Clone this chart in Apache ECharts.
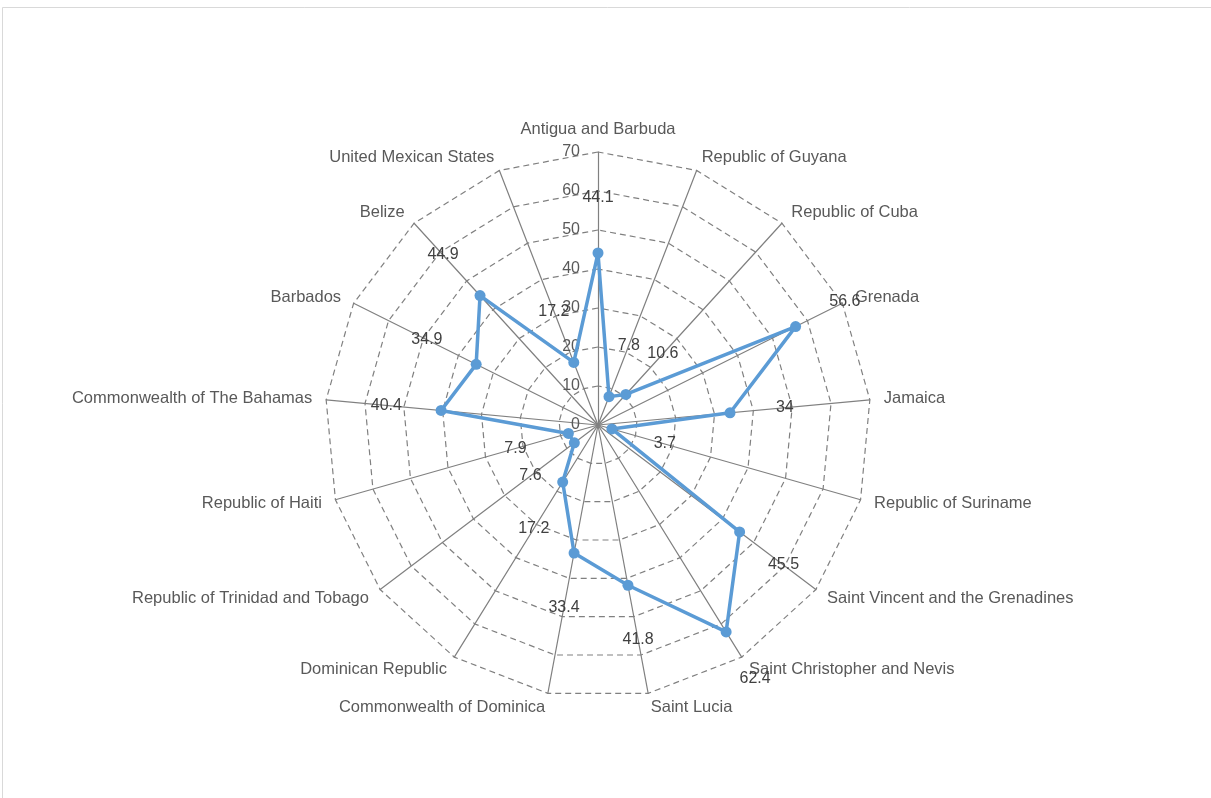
<!DOCTYPE html>
<html>
<head>
<meta charset="utf-8">
<script src="https://cdn.jsdelivr.net/npm/echarts@6/dist/echarts.min.js"></script>
<style>
  html, body { margin: 0; padding: 0; background: #fff; }
  #chart { width: 1211px; height: 798px; }
</style>
</head>
<body>
<div id="chart"></div>
<script>
// categories clockwise from the top
const countries = [
  "Antigua and Barbuda", "Republic of Guyana", "Republic of Cuba", "Grenada",
  "Jamaica", "Republic of Suriname", "Saint Vincent and the Grenadines",
  "Saint Christopher and Nevis", "Saint Lucia", "Commonwealth of Dominica",
  "Dominican Republic", "Republic of Trinidad and Tobago", "Republic of Haiti",
  "Commonwealth of The Bahamas", "Barbados", "Belize", "United Mexican States"
];
const values = [44.1, 7.8, 10.6, 56.6, 34, 3.7, 45.5, 62.4, 41.8, 33.4, 17.2, 7.6, 7.9, 40.4, 34.9, 44.9, 17.2];
const axisMin = 0;
const axisMax = 70;
const axisSplits = 7;

const blue = "#5B9BD5";
const grey = "#808080";
const textColor = "#595959";
const font = "'Liberation Sans', Arial, sans-serif";

// echarts lays radar axes out counter-clockwise, so feed them in reverse after the first
const order = countries.map((_, i) => (i === 0 ? 0 : countries.length - i));

const chart = echarts.init(document.getElementById("chart"));

const indicators = order.map((k, j) => ({
  name: countries[k],
  min: axisMin,
  max: axisMax,
  axisLabel: j === 0 ? { show: true } : { show: false }
}));

chart.setOption({
  animation: false,
  backgroundColor: "#fff",
  textStyle: { fontFamily: font },
  graphic: [{
    type: "rect",
    id: "frame",
    shape: { x: 2.5, y: 7.5, width: 1215, height: 800 },
    style: { fill: "none", stroke: "#d9d9d9", lineWidth: 1 },
    silent: true
  }],
  radar: {
    center: [598, 425],
    radius: 273,
    startAngle: 90,
    shape: "polygon",
    splitNumber: axisSplits,
    indicator: indicators,
    axisName: { color: textColor, fontSize: 16.5, fontFamily: font },
    nameGap: 14,
    axisLine: { lineStyle: { color: grey, width: 1.2 } },
    axisTick: { show: false },
    axisLabel: {
      show: false,
      color: textColor,
      fontSize: 16,
      fontFamily: font,
      margin: 18
    },
    splitLine: { lineStyle: { color: grey, width: 1.2, type: [6, 4] } },
    splitArea: { show: false }
  },
  series: [{
    type: "radar",
    symbol: "circle",
    symbolSize: 11,
    lineStyle: { color: blue, width: 3.5 },
    itemStyle: { color: blue },
    data: [{ value: order.map((k) => values[k]), name: "Share" }]
  }]
});

// value labels: pushed outward along each axis, positioned with the radar's own scale
const radarCS = chart.getModel().getComponent("radar").coordinateSystem;
const push = 55;
const labelGraphics = order.map((k, j) => {
  const v = values[k];
  const p = radarCS.dataToPoint(v, j);
  const end = radarCS.dataToPoint(axisMax, j);
  const dx = end[0] - radarCS.cx, dy = end[1] - radarCS.cy;
  const len = Math.sqrt(dx * dx + dy * dy);
  return {
    type: "text",
    id: "lbl" + k,
    x: p[0] + dx / len * push,
    y: p[1] + dy / len * push,
    silent: true,
    z: 10,
    style: {
      text: String(v),
      fill: "#404040",
      font: "16px " + font,
      align: "center",
      verticalAlign: "middle"
    }
  };
});
chart.setOption({ graphic: labelGraphics });
</script>
</body>
</html>
